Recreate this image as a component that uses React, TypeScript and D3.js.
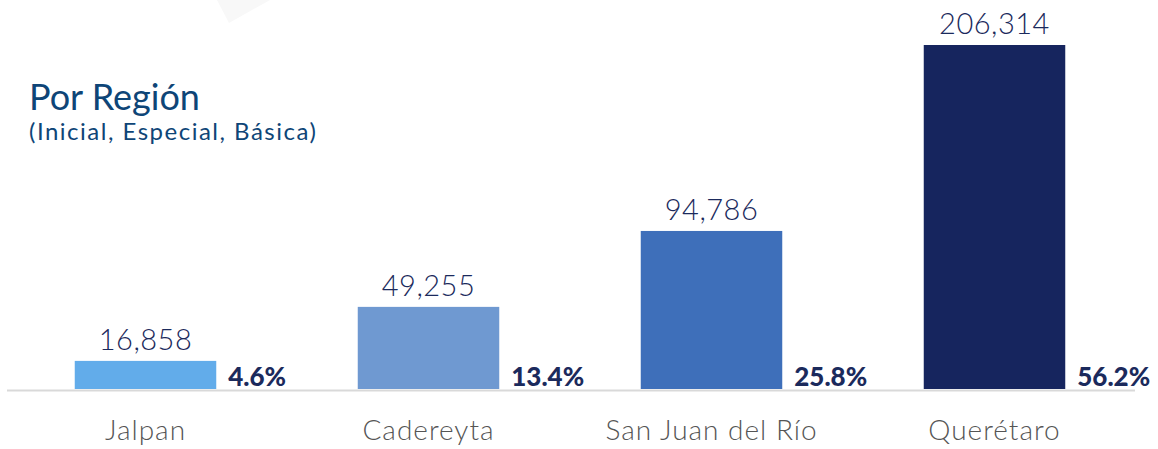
import React from "react";
import * as d3 from "d3";

const categories = ["Jalpan", "Cadereyta", "San Juan del Río", "Querétaro"];
const values = [16858, 49255, 94786, 206314];
const percents = ["4.6%", "13.4%", "25.8%", "56.2%"];
const barColors = ["#62acea", "#6f99d1", "#3e6fba", "#16255e"];
const title = "Por Región";
const subtitle = "(Inicial, Especial, Básica)";

const W = 1158;
const H = 449;

export default function App() {
  const x = d3
    .scaleBand<string>()
    .domain(categories)
    .range([4, 1136])
    .paddingInner(0.5)
    .paddingOuter(0.25);
  const y = d3.scaleLinear().domain([0, 206314]).range([389, 45]);
  const fmt = d3.format(",");
  const bw = x.bandwidth();

  return (
    <div style={{ position: "absolute", left: 0, top: 0 }}>
      <svg width={W} height={H} style={{ display: "block" }}>
        <rect x={0} y={0} width={W} height={H} fill="#ffffff" />
        <polygon points="217,0 229,23 270,0" fill="#f8f8f8" />
        <text
          x={29}
          y={110}
          fontFamily="Lato, 'Open Sans', sans-serif"
          fontSize={36}
          fill="#0e4577"
        >
          {title}
        </text>
        <text
          x={29}
          y={140}
          fontFamily="Lato, 'Open Sans', sans-serif"
          fontSize={24}
          letterSpacing={1.5}
          fill="#0e4577"
        >
          {subtitle}
        </text>
        <line x1={7} x2={1135} y1={390.5} y2={390.5} stroke="#d9d9d9" strokeWidth={2} />
        {categories.map((c, i) => {
          const bx = x(c)!;
          const by = y(values[i]);
          return (
            <g key={c}>
              <rect x={bx} y={by} width={bw} height={y(0) - by} fill={barColors[i]} />
              <text
                x={bx + bw / 2}
                y={by - 11}
                textAnchor="middle"
                fontFamily="Lato, sans-serif"
                fontWeight={300}
                fontSize={29}
                letterSpacing={0.5}
                fill="#1b2a5c"
              >
                {fmt(values[i])}
              </text>
              <text
                x={bx + bw + 12}
                y={386}
                fontFamily="Lato, sans-serif"
                fontWeight={900}
                fontSize={26}
                fill="#1b2a5c"
              >
                {percents[i]}
              </text>
              <text
                x={bx + bw / 2}
                y={440}
                textAnchor="middle"
                fontFamily="Lato, sans-serif"
                fontWeight={300}
                fontSize={28}
                letterSpacing={1}
                fill="#555555"
              >
                {c}
              </text>
            </g>
          );
        })}
      </svg>
    </div>
  );
}
